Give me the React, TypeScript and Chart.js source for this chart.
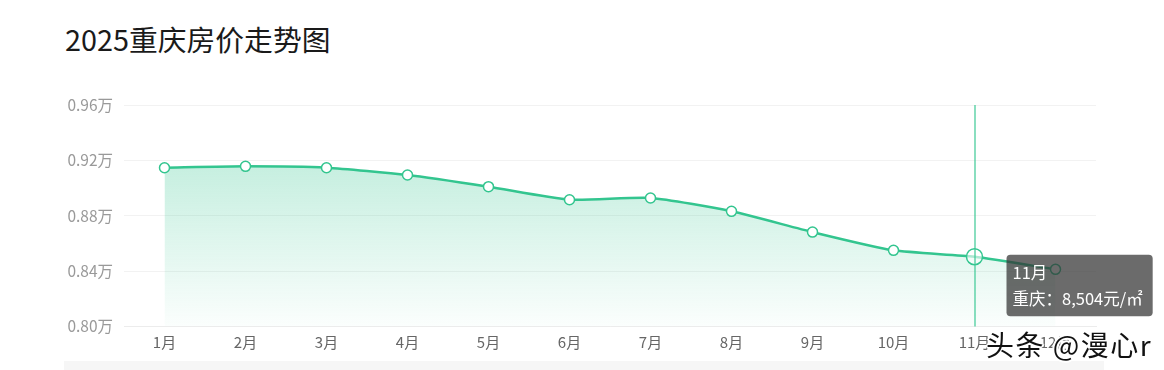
import React, { useEffect, useRef } from "react";
import { Chart, registerables, Tooltip } from "chart.js";

Chart.register(...registerables);

const months = ["1月", "2月", "3月", "4月", "5月", "6月", "7月", "8月", "9月", "10月", "11月", "12月"];
const prices = [9147, 9157, 9147, 9094, 9010, 8916, 8928, 8832, 8682, 8550, 8504, 8413];
const yTicks = [8000, 8400, 8800, 9200, 9600];
const seriesName = "重庆";
const activeIndex = 10;

const FONT = '"Noto Sans CJK SC", "Noto Sans", sans-serif';
const GREEN = "#33c58f";

(Tooltip.positioners as any).sideRight = function (items: any[]) {
  if (!items.length) return false;
  const el = items[0].element;
  return { x: el.x + 36, y: el.y - 2 };
};

const crosshair = {
  id: "crosshair",
  afterDatasetsDraw(chart: any) {
    const act = chart.getActiveElements();
    if (!act.length) return;
    const x = act[0].element.x;
    const { top, bottom } = chart.chartArea;
    const ctx = chart.ctx;
    ctx.save();
    ctx.globalAlpha = 1;
    ctx.setLineDash([]);
    ctx.strokeStyle = "#3cc995";
    ctx.lineWidth = 1.2;
    ctx.beginPath();
    ctx.moveTo(Math.round(x), top);
    ctx.lineTo(Math.round(x), bottom);
    ctx.stroke();
    ctx.restore();
  },
};

export default function App() {
  const ref = useRef<HTMLCanvasElement | null>(null);

  useEffect(() => {
    if (!ref.current) return;
    Chart.defaults.font.family = FONT;
    const chart = new Chart(ref.current, {
      type: "line",
      data: {
        labels: months,
        datasets: [
          {
            label: seriesName,
            data: prices,
            borderColor: GREEN,
            borderWidth: 2.5,
            tension: 0.2,
            fill: "start",
            backgroundColor: (c: any) => {
              const ch = c.chart;
              const area = ch.chartArea;
              if (!area) return "rgba(51,197,143,0.25)";
              const yTop = ch.scales.y.getPixelForValue(Math.max(...prices));
              const g = ch.ctx.createLinearGradient(0, yTop, 0, area.bottom);
              g.addColorStop(0, "rgba(51,197,143,0.28)");
              g.addColorStop(1, "rgba(51,197,143,0.02)");
              return g;
            },
            pointRadius: 5,
            pointBorderWidth: 1.5,
            pointBackgroundColor: "#ffffff",
            pointBorderColor: GREEN,
            pointHoverRadius: 8,
            pointHoverBorderWidth: 1.5,
            pointHoverBackgroundColor: "rgba(255,255,255,0.6)",
            pointHoverBorderColor: GREEN,
          },
        ],
      },
      options: {
        responsive: false,
        animation: false,
        events: [],
        layout: { padding: { left: 0, right: 68, top: 105, bottom: 0 } },
        plugins: {
          legend: { display: false },
          title: { display: false },
          tooltip: {
            enabled: true,
            position: "sideRight" as any,
            xAlign: "left",
            yAlign: "top",
            caretSize: 0,
            caretPadding: 0,
            backgroundColor: "rgba(50,50,50,0.72)",
            cornerRadius: 4,
            displayColors: false,
            padding: { left: 6, right: 10, top: 8, bottom: 8 },
            titleFont: { family: FONT, size: 16.5, weight: "normal" },
            bodyFont: { family: FONT, size: 16.5, weight: "normal" },
            titleColor: "#ffffff",
            bodyColor: "#ffffff",
            titleMarginBottom: 6,
            callbacks: {
              title: (items: any[]) => items[0].label,
              label: (c: any) => `${seriesName}：${c.parsed.y.toLocaleString("en-US")}元/㎡`,
            },
          },
        },
        scales: {
          x: {
            type: "category",
            offset: true,
            grid: { display: false, drawTicks: false },
            border: { display: true, color: "#ececec", width: 1 },
            ticks: {
              color: "#666666",
              font: { family: FONT, size: 15 },
              padding: 7,
              maxRotation: 0,
              autoSkip: false,
            },
            afterFit: (s: any) => {
              s.height = 43.5;
            },
          },
          y: {
            min: 8000,
            max: 9600,
            afterBuildTicks: (s: any) => {
              s.ticks = yTicks.map((v) => ({ value: v }));
            },
            grid: { color: "#f2f2f2", drawTicks: false, lineWidth: 1 },
            border: { display: false },
            ticks: {
              color: "#999999",
              font: { family: FONT, size: 15.5 },
              padding: 11,
              callback: (v: any) => (Number(v) / 10000).toFixed(2) + "万",
            },
            afterFit: (s: any) => {
              s.width = 124;
            },
          },
        },
      },
      plugins: [crosshair],
    });

    const act = [{ datasetIndex: 0, index: activeIndex }];
    chart.setActiveElements(act);
    const el: any = chart.getDatasetMeta(0).data[activeIndex];
    chart.tooltip?.setActiveElements(act, { x: el.x, y: el.y });
    chart.update();

    return () => chart.destroy();
  }, []);

  return (
    <div style={{ position: "relative", width: 1164, height: 370, background: "#fff", overflow: "hidden" }}>
      <style>{`body{margin:0;}`}</style>
      <div
        style={{
          position: "absolute",
          left: 65,
          top: 22,
          fontFamily: FONT,
          fontSize: 28.8,
          lineHeight: "34px",
          color: "#1a1a1a",
          whiteSpace: "nowrap",
        }}
      >
        2025重庆房价走势图
      </div>
      <div
        style={{
          position: "absolute",
          left: 64,
          top: 361,
          width: 1040,
          height: 9,
          background: "#f6f6f6",
        }}
      />
      <canvas ref={ref} width={1164} height={370} style={{ position: "absolute", left: 0, top: 0, width: 1164, height: 370 }} />
      <div
        style={{
          position: "absolute",
          left: 986,
          top: 327,
          fontFamily: FONT,
          fontSize: 28,
          letterSpacing: 1.5,
          lineHeight: "34px",
          color: "#111",
          whiteSpace: "nowrap",
          textShadow:
            "1px 1px 0 #fff, -1px -1px 0 #fff, 1px -1px 0 #fff, -1px 1px 0 #fff, 2px 0 0 #fff, -2px 0 0 #fff, 0 2px 0 #fff, 0 -2px 0 #fff",
        }}
      >
        头条 @漫心r
      </div>
    </div>
  );
}
